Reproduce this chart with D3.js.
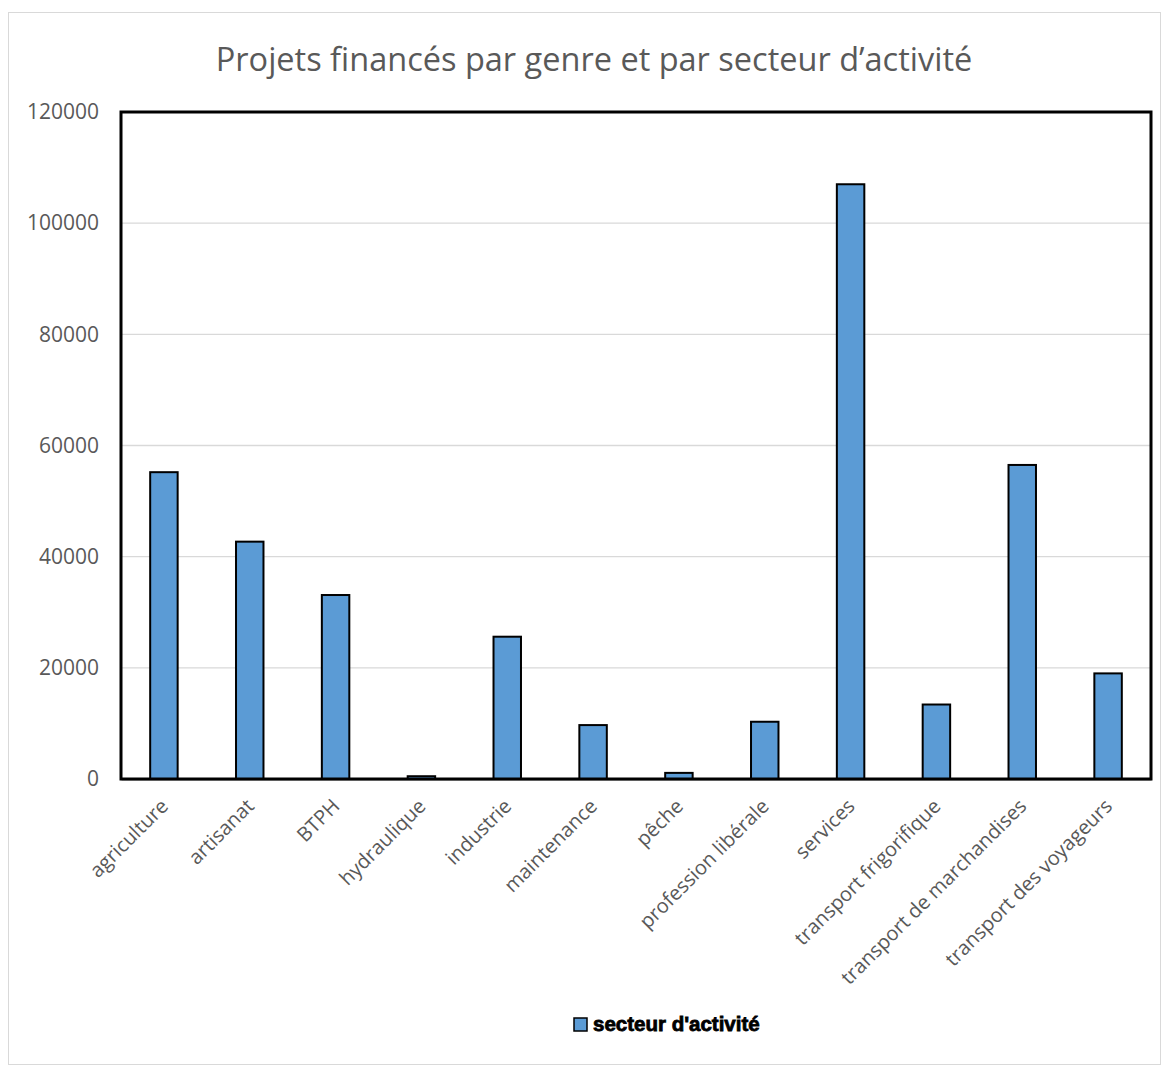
<!DOCTYPE html>
<html lang="fr">
<head>
<meta charset="utf-8">
<title>Projets financés</title>
<script src="https://cdn.jsdelivr.net/npm/d3@7"></script>
<style>
  body { margin: 0; background: #fff; }
</style>
</head>
<body>
<script>
// data
var categories = ["agriculture", "artisanat", "BTPH", "hydraulique", "industrie", "maintenance",
  "pêche", "profession libérale", "services", "transport frigorifique",
  "transport de marchandises", "transport des voyageurs"];
var values = [55200, 42700, 33100, 500, 25600, 9700, 1100, 10300, 107000, 13400, 56500, 19000];
var yTicks = [0, 20000, 40000, 60000, 80000, 100000, 120000];
var seriesName = "secteur d'activité";
var title = "Projets financés par genre et par secteur d’activité";

var W = 1169, H = 1073;
var m = { left: 121, top: 112, right: 1151, bottom: 779 };

var svg = d3.select("body").append("svg")
  .attr("width", W).attr("height", H);

// outer chart border
svg.append("rect")
  .attr("x", 8.5).attr("y", 12.5)
  .attr("width", 1152).attr("height", 1052)
  .attr("fill", "#fff").attr("stroke", "#d9d9d9").attr("stroke-width", 1);

svg.append("text")
  .attr("x", 594).attr("y", 71)
  .attr("text-anchor", "middle")
  .attr("font-family", "'Open Sans', sans-serif")
  .attr("font-size", 32.5)
  .attr("fill", "#595959")
  .text(title);

var x = d3.scaleBand().domain(categories).range([m.left, m.right]).paddingInner(0.68).paddingOuter(0.34);
var y = d3.scaleLinear().domain([0, 120000]).range([m.bottom, m.top]);

// gridlines
svg.append("g").selectAll("line")
  .data(yTicks.slice(1))
  .enter().append("line")
  .attr("x1", m.left).attr("x2", m.right)
  .attr("y1", function(d) { return y(d); })
  .attr("y2", function(d) { return y(d); })
  .attr("stroke", "#d9d9d9").attr("stroke-width", 1.3);

// y axis labels
var yAxis = svg.append("g")
  .attr("transform", "translate(" + m.left + ",0)")
  .call(d3.axisLeft(y).tickValues(yTicks).tickFormat(d3.format("d")).tickSize(0).tickPadding(22));
yAxis.select(".domain").remove();
yAxis.selectAll("text")
  .attr("font-family", "'Open Sans', sans-serif")
  .attr("font-size", 21)
  .attr("fill", "#595959");

// bars
svg.append("g").selectAll("rect")
  .data(values)
  .enter().append("rect")
  .attr("x", function(d, i) { return x(categories[i]); })
  .attr("y", function(d) { return y(d); })
  .attr("width", x.bandwidth())
  .attr("height", function(d) { return m.bottom - y(d); })
  .attr("fill", "#5b9bd5")
  .attr("stroke", "#000").attr("stroke-width", 2);

// x axis
var xAxis = svg.append("g")
  .attr("transform", "translate(0," + m.bottom + ")")
  .call(d3.axisBottom(x).tickSize(0).tickPadding(12));
xAxis.select(".domain").attr("stroke", "#7f7f7f").attr("stroke-width", 2);
xAxis.selectAll("text")
  .attr("font-family", "'Open Sans', sans-serif")
  .attr("font-size", 20)
  .attr("fill", "#595959")
  .attr("text-anchor", "end")
  .attr("dy", "0.35em")
  .attr("transform", "translate(-8,15) rotate(-45)");

// plot area border
svg.append("rect")
  .attr("x", m.left).attr("y", m.top)
  .attr("width", m.right - m.left).attr("height", m.bottom - m.top)
  .attr("fill", "none").attr("stroke", "#000").attr("stroke-width", 3);

// legend
var lg = svg.append("g").attr("transform", "translate(574,1018)");
lg.append("rect")
  .attr("width", 13).attr("height", 13)
  .attr("fill", "#5b9bd5").attr("stroke", "#000").attr("stroke-width", 1.5);
lg.append("text")
  .attr("x", 19).attr("y", 13)
  .attr("font-family", "'Liberation Sans Narrow', 'Liberation Sans', sans-serif")
  .attr("font-weight", "bold")
  .attr("font-size", 20.5)
  .attr("fill", "#000")
  .attr("stroke", "#000").attr("stroke-width", 0.8)
  .text(seriesName);
</script>
</body>
</html>
